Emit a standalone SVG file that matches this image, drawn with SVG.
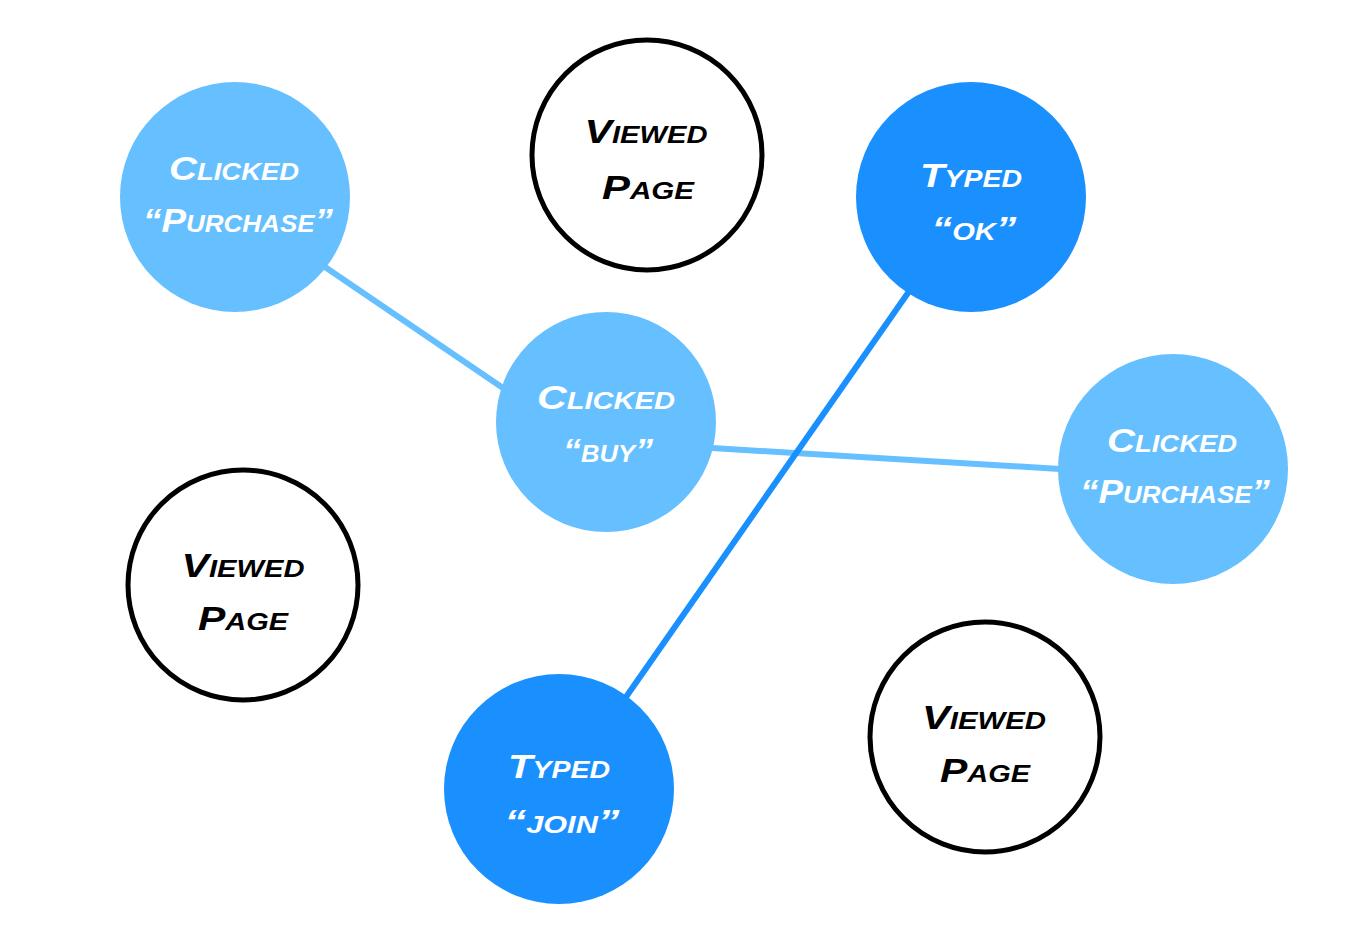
<svg xmlns="http://www.w3.org/2000/svg" width="1360" height="942" viewBox="0 0 1360 942">
<style>
.light{fill:#66BFFF}
.dark{fill:#1A90FF}
.white{fill:#FFFFFF;stroke:#000000;stroke-width:5}
.lbl{font-family:"Liberation Sans",Arial,sans-serif;font-weight:bold;font-style:italic;font-variant:small-caps;font-size:34px;text-anchor:middle}
.lw{fill:#FFFFFF}
.lb{fill:#000000}
.e1{stroke:#66BFFF;stroke-width:6;fill:none}
.e2{stroke:#1A90FF;stroke-width:6;fill:none}
</style>
<rect width="1360" height="942" fill="#FFFFFF"/>
<g id="connectors">
<line class="e1" x1="325" y1="267" x2="503" y2="388"/>
<line class="e1" x1="712" y1="448" x2="1060" y2="469"/>
<line class="e2" x1="910" y1="290" x2="626" y2="697"/>
</g>
<g id="n-clicked-purchase-1">
<circle class="light" cx="235" cy="197" r="115"/>
<text class="lbl lw" x="234" y="180" textLength="130" lengthAdjust="spacingAndGlyphs">Clicked</text>
<text class="lbl lw" x="238" y="232" textLength="190" lengthAdjust="spacingAndGlyphs">“Purchase”</text>
</g>
<g id="n-viewed-1">
<circle class="white" cx="647" cy="155" r="115"/>
<text class="lbl lb" x="646" y="143" textLength="123" lengthAdjust="spacingAndGlyphs">Viewed</text>
<text class="lbl lb" x="648" y="199" textLength="92" lengthAdjust="spacingAndGlyphs">Page</text>
</g>
<g id="n-typed-ok">
<circle class="dark" cx="971" cy="197" r="115"/>
<text class="lbl lw" x="971" y="187" textLength="102" lengthAdjust="spacingAndGlyphs">Typed</text>
<text class="lbl lw" x="974" y="240" textLength="85" lengthAdjust="spacingAndGlyphs">“ok”</text>
</g>
<g id="n-clicked-buy">
<circle class="light" cx="606" cy="422" r="110"/>
<text class="lbl lw" x="606" y="409" textLength="138" lengthAdjust="spacingAndGlyphs">Clicked</text>
<text class="lbl lw" x="608" y="462" textLength="90" lengthAdjust="spacingAndGlyphs">“buy”</text>
</g>
<g id="n-clicked-purchase-2">
<circle class="light" cx="1173" cy="469" r="115"/>
<text class="lbl lw" x="1172" y="452" textLength="130" lengthAdjust="spacingAndGlyphs">Clicked</text>
<text class="lbl lw" x="1175" y="503" textLength="190" lengthAdjust="spacingAndGlyphs">“Purchase”</text>
</g>
<g id="n-viewed-2">
<circle class="white" cx="243" cy="585" r="115"/>
<text class="lbl lb" x="243" y="577" textLength="123" lengthAdjust="spacingAndGlyphs">Viewed</text>
<text class="lbl lb" x="243" y="630" textLength="90" lengthAdjust="spacingAndGlyphs">Page</text>
</g>
<g id="n-typed-join">
<circle class="dark" cx="559" cy="789" r="115"/>
<text class="lbl lw" x="559" y="778" textLength="102" lengthAdjust="spacingAndGlyphs">Typed</text>
<text class="lbl lw" x="562" y="833" textLength="115" lengthAdjust="spacingAndGlyphs">“join”</text>
</g>
<g id="n-viewed-3">
<circle class="white" cx="985" cy="737" r="115"/>
<text class="lbl lb" x="984" y="729" textLength="124" lengthAdjust="spacingAndGlyphs">Viewed</text>
<text class="lbl lb" x="985" y="782" textLength="90" lengthAdjust="spacingAndGlyphs">Page</text>
</g>
</svg>
